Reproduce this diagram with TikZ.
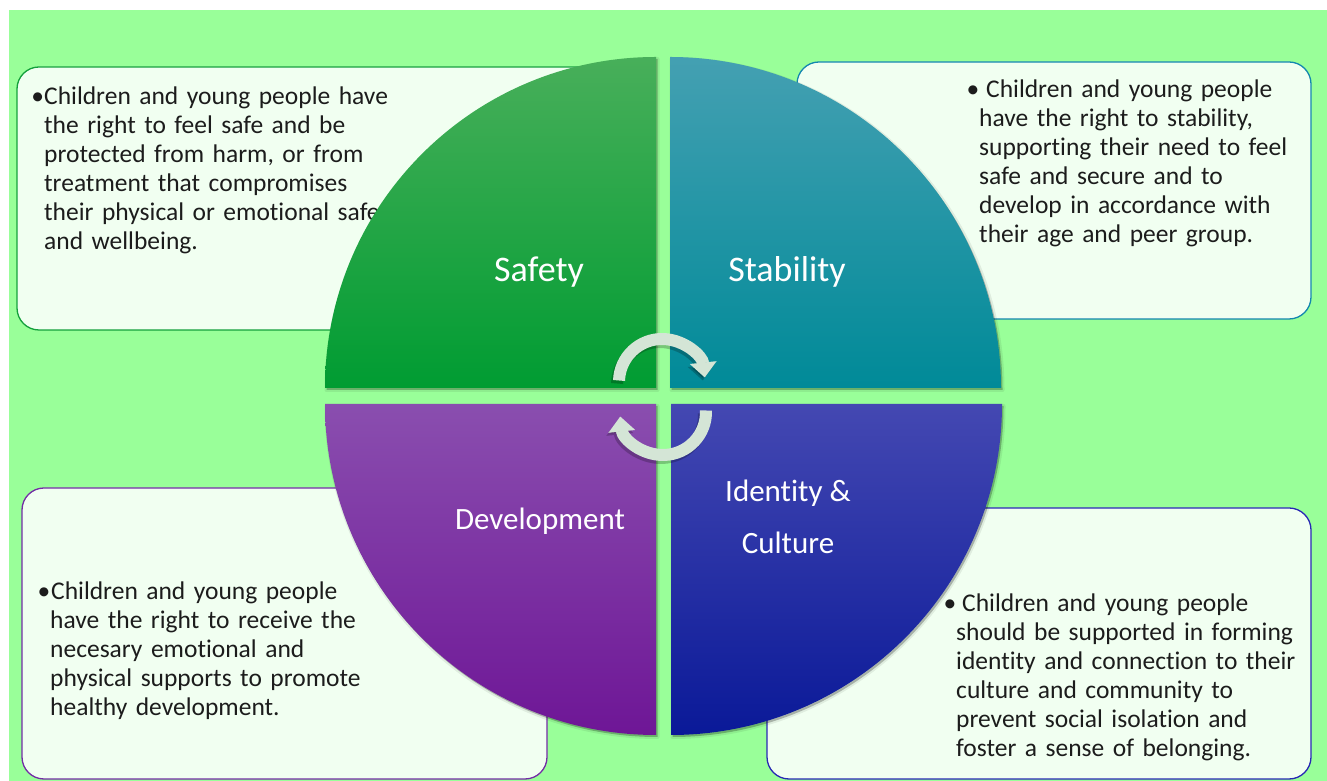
\documentclass[tikz,border=0pt]{standalone}
\usepackage{fontspec}
\setmainfont{Carlito}[Ligatures=NoCommon]
\usetikzlibrary{arrows.meta}

\definecolor{bggreen}{RGB}{153,255,153}
\definecolor{boxfill}{RGB}{241,255,241}
\definecolor{textdark}{RGB}{28,28,28}
\definecolor{edgeTL}{RGB}{20,160,60}
\definecolor{edgeTR}{RGB}{20,135,175}
\definecolor{edgeBL}{RGB}{115,45,165}
\definecolor{edgeBR}{RGB}{40,40,180}
\definecolor{safeA}{RGB}{72,175,90}
\definecolor{safeB}{RGB}{8,166,58}
\definecolor{safeC}{RGB}{0,156,50}
\definecolor{stabA}{RGB}{68,160,178}
\definecolor{stabB}{RGB}{10,152,172}
\definecolor{stabC}{RGB}{0,138,152}
\definecolor{devA}{RGB}{138,78,175}
\definecolor{devB}{RGB}{122,45,165}
\definecolor{devC}{RGB}{110,22,150}
\definecolor{idA}{RGB}{68,72,178}
\definecolor{idB}{RGB}{35,40,165}
\definecolor{idC}{RGB}{10,25,152}
\definecolor{arrowfill}{RGB}{212,229,214}

\begin{document}
\begin{tikzpicture}[x=1pt,y=1pt,
  infobox/.style={rounded corners=22pt, fill=boxfill, line width=1.3pt},
  boxtext/.style={anchor=base west, inner sep=0pt, text width=560pt, align=left,
    text=textdark, font=\fontsize{25.5}{29}\selectfont},
  quadlabel/.style={anchor=base, inner sep=0pt, text=white, font=\fontsize{36}{44}\selectfont},
  smalllabel/.style={quadlabel, font=\fontsize{31}{38}\selectfont},
  quadrant/.style={
    preaction={draw=black, line width=4pt, line join=round, opacity=0.07,
      transform canvas={shift={(1.5pt,-2pt)}}},
    preaction={fill=black, opacity=0.25, transform canvas={shift={(1.5pt,-2pt)}}}},
  cyclearrow/.style={line width=12pt, draw=arrowfill, -{Triangle[width=26pt,length=15pt]}},
  cycleshadow/.style={line width=12pt, draw=black, opacity=0.22, -{Triangle[width=26pt,length=15pt]}}
]
\useasboundingbox (0,0) rectangle (1327,781);
\fill[white] (0,0) rectangle (1327,781);
\fill[bggreen] (9,0) rectangle (1327,771);

% text boxes behind the circle
\draw[infobox, draw=edgeTL] (17,451) rectangle (600,714);
\draw[infobox, draw=edgeTR] (797,462) rectangle (1311,719);
\draw[infobox, draw=edgeBL] (22,2) rectangle (547,293);
\draw[infobox, draw=edgeBR] (767,2) rectangle (1311,273);

\node[boxtext] (safetytext) at (44,676)
  {\llap{•}Children and young people have\\
   the right to feel safe and be\\
   protected from harm, or from\\
   treatment that compromises\\
   their physical or emotional safety\\
   and wellbeing.};
\node[boxtext] (stabilitytext) at (979,683)
  {\llap{•}\hspace{7pt}Children and young people\\
   have the right to stability,\\
   supporting their need to feel\\
   safe and secure and to\\
   develop in accordance with\\
   their age and peer group.};
\node[boxtext] (developmenttext) at (50,181)
  {\llap{•}\hspace{1pt}Children and young people\\
   have the right to receive the\\
   necesary emotional and\\
   physical supports to promote\\
   healthy development.};
\node[boxtext] (identitytext) at (956,169)
  {\llap{•}\hspace{6pt}Children and young people\\
   should be supported in forming\\
   identity and connection to their\\
   culture and community to\\
   prevent social isolation and\\
   foster a sense of belonging.};

% four quarter discs
\path[quadrant, top color=safeA, middle color=safeB, bottom color=safeC]
  (656,393) -- ++(-331,0) arc[start angle=180, end angle=90, radius=331] -- cycle;
\path[quadrant, top color=stabA, middle color=stabB, bottom color=stabC]
  (670,393) -- ++(0,331) arc[start angle=90, end angle=0, radius=331] -- cycle;
\path[quadrant, top color=devA, middle color=devB, bottom color=devC]
  (656,377) -- ++(-331,0) arc[start angle=180, end angle=270, radius=331] -- cycle;
\path[quadrant, top color=idA, middle color=idB, bottom color=idC]
  (671,377) -- ++(331,0) arc[start angle=0, end angle=-90, radius=331] -- cycle;

\node[quadlabel] (safety) at (539,499) {Safety};
\node[quadlabel] (stability) at (787,499) {Stability};
\node[smalllabel] (development) at (540,251) {Development};
\node[smalllabel] (identity) at (788,279) {Identity \&};
\node[smalllabel] (culture) at (788,227) {Culture};

% cycle arrows in the centre
\draw[cycleshadow] (660,396) ++(178:43) arc[start angle=178, end angle=6, radius=43];
\draw[cycleshadow] (661,366) ++(2:43) arc[start angle=2, end angle=-174, radius=43];
\draw[cyclearrow] (662,399) ++(178:43) arc[start angle=178, end angle=6, radius=43];
\draw[cyclearrow] (663,369) ++(2:43) arc[start angle=2, end angle=-174, radius=43];
\end{tikzpicture}
\end{document}
